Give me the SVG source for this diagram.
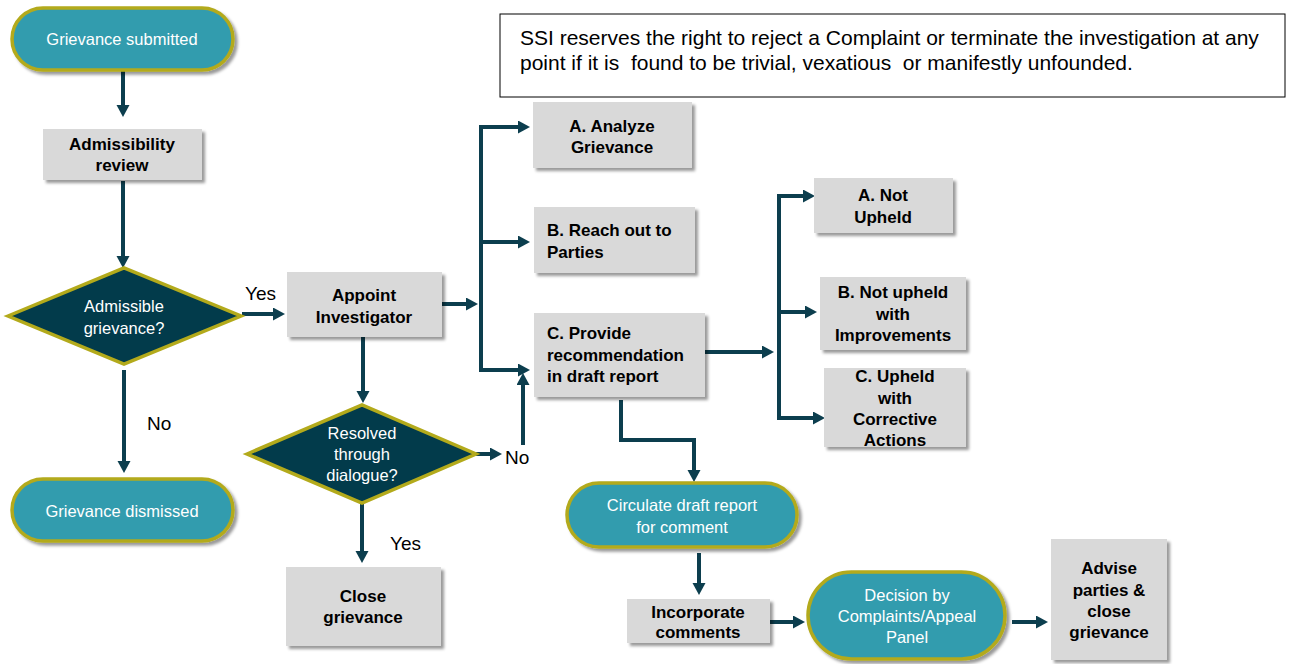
<svg xmlns="http://www.w3.org/2000/svg" width="1293" height="664" viewBox="0 0 1293 664">
<style>
.box{fill:#d9d9d9;filter:url(#sh)}
.pill{fill:#339cae;stroke:#b3aa1b;stroke-width:3.5;filter:url(#sh)}
.dia{fill:#023b4b;stroke:#b3aa1b;stroke-width:3.5}
.bt{font-family:"Liberation Sans",Arial,sans-serif;font-weight:bold;font-size:17px;fill:#000;text-anchor:middle}
.bl{text-anchor:start}
.wt{font-family:"Liberation Sans",Arial,sans-serif;font-size:16.5px;fill:#fff;text-anchor:middle}
.lb{font-family:"Liberation Sans",Arial,sans-serif;font-size:19px;fill:#000}
.note{font-family:"Liberation Sans",Arial,sans-serif;font-size:21px;fill:#000;white-space:pre}
.c{fill:none;stroke:#0c3e4e;stroke-width:4;marker-end:url(#ah)}
.cn{fill:none;stroke:#0c3e4e;stroke-width:4}
</style>
<defs>
<filter id="sh" x="-10%" y="-10%" width="130%" height="130%">
<feDropShadow dx="3" dy="3" stdDeviation="1.6" flood-color="#000" flood-opacity="0.4"/>
</filter>
<marker id="ah" markerUnits="userSpaceOnUse" markerWidth="14" markerHeight="14" refX="8" refY="6.5" orient="auto">
<path d="M0,0 L12,6.5 L0,13 z" fill="#0c3e4e"/>
</marker>
</defs>

<g id="connectors">
<path class="c" d="M123,71 V113"/>
<path class="c" d="M123,181 V264"/>
<path class="c" d="M242,314 H281"/>
<path class="c" d="M124,370 V469"/>
<path class="c" d="M442,304 H474"/>
<path class="cn" d="M481,127 V371"/>
<path class="c" d="M479,127 H526"/>
<path class="c" d="M481,242 H526"/>
<path class="c" d="M479,370 H526"/>
<path class="c" d="M363,337 V399"/>
<path class="c" d="M476,454 H498"/>
<path class="c" d="M523,445 V377"/>
<path class="c" d="M362,503 V559"/>
<path class="c" d="M621,400 V440 H694 V478"/>
<path class="c" d="M699,553 V591"/>
<path class="c" d="M770,622 H801"/>
<path class="c" d="M1012,622 H1044"/>
<path class="c" d="M705,352 H770"/>
<path class="cn" d="M779,196 V418"/>
<path class="c" d="M777,196 H811"/>
<path class="c" d="M779,312 H813"/>
<path class="c" d="M777,418 H821"/>
</g>

<g id="labels">
<text class="lb" x="245" y="300">Yes</text>
<text class="lb" x="147" y="430">No</text>
<text class="lb" x="505" y="464">No</text>
<text class="lb" x="390" y="550">Yes</text>
</g>

<g id="note">
<rect x="500" y="14" width="785" height="83" fill="#fff" stroke="#000" stroke-width="1"/>
<text class="note" x="520" y="45">SSI reserves the right to reject a Complaint or terminate the investigation at any</text>
<text class="note" x="520" y="70">point if it is  found to be trivial, vexatious  or manifestly unfounded.</text>
</g>

<g id="grievance-submitted">
<rect class="pill" x="12" y="8" width="221" height="62" rx="31"/>
<text class="wt" x="122" y="45">Grievance submitted</text>
</g>

<g id="admissibility-review">
<rect class="box" x="43" y="129" width="159" height="51"/>
<text class="bt" x="122" y="150">Admissibility</text>
<text class="bt" x="122" y="171">review</text>
</g>

<g id="admissible-grievance">
<polygon class="dia" points="8,316 124,268 241,316 124,364"/>
<text class="wt" x="124" y="312">Admissible</text>
<text class="wt" x="124" y="334">grievance?</text>
</g>

<g id="grievance-dismissed">
<rect class="pill" x="12" y="479" width="221" height="62" rx="31"/>
<text class="wt" x="122" y="517">Grievance dismissed</text>
</g>

<g id="appoint-investigator">
<rect class="box" x="287" y="272" width="155" height="65"/>
<text class="bt" x="364" y="301">Appoint</text>
<text class="bt" x="364" y="323">Investigator</text>
</g>

<g id="resolved-through-dialogue">
<polygon class="dia" points="247,454 362,405 476,454 362,503"/>
<text class="wt" x="362" y="439">Resolved</text>
<text class="wt" x="362" y="460">through</text>
<text class="wt" x="362" y="481">dialogue?</text>
</g>

<g id="close-grievance">
<rect class="box" x="286" y="567" width="155" height="79"/>
<text class="bt" x="363" y="602">Close</text>
<text class="bt" x="363" y="623">grievance</text>
</g>

<g id="analyze-grievance">
<rect class="box" x="533" y="102" width="159" height="66"/>
<text class="bt" x="612" y="132">A. Analyze</text>
<text class="bt" x="612" y="153">Grievance</text>
</g>

<g id="reach-out">
<rect class="box" x="534" y="207" width="161" height="66"/>
<text class="bt bl" x="547" y="236">B. Reach out to</text>
<text class="bt bl" x="547" y="258">Parties</text>
</g>

<g id="provide-recommendation">
<rect class="box" x="534" y="313" width="171" height="84"/>
<text class="bt bl" x="547" y="339">C. Provide</text>
<text class="bt bl" x="547" y="361">recommendation</text>
<text class="bt bl" x="547" y="382">in draft report</text>
</g>

<g id="not-upheld">
<rect class="box" x="814" y="178" width="139" height="55"/>
<text class="bt" x="883" y="201">A. Not</text>
<text class="bt" x="883" y="223">Upheld</text>
</g>

<g id="not-upheld-improvements">
<rect class="box" x="820" y="277" width="146" height="73"/>
<text class="bt" x="893" y="298">B. Not upheld</text>
<text class="bt" x="893" y="320">with</text>
<text class="bt" x="893" y="341">Improvements</text>
</g>

<g id="upheld-corrective">
<rect class="box" x="824" y="368" width="142" height="79"/>
<text class="bt" x="895" y="382">C. Upheld</text>
<text class="bt" x="895" y="404">with</text>
<text class="bt" x="895" y="425">Corrective</text>
<text class="bt" x="895" y="446">Actions</text>
</g>

<g id="circulate-draft">
<rect class="pill" x="567" y="483" width="230" height="64" rx="32"/>
<text class="wt" x="682" y="511">Circulate draft report</text>
<text class="wt" x="682" y="533">for comment</text>
</g>

<g id="incorporate-comments">
<rect class="box" x="627" y="599" width="143" height="44"/>
<text class="bt" x="698" y="618">Incorporate</text>
<text class="bt" x="698" y="638">comments</text>
</g>

<g id="decision-panel">
<rect class="pill" x="808" y="572" width="197" height="87" rx="43.5"/>
<text class="wt" x="907" y="601">Decision by</text>
<text class="wt" x="907" y="622">Complaints/Appeal</text>
<text class="wt" x="907" y="643">Panel</text>
</g>

<g id="advise-parties">
<rect class="box" x="1051" y="539" width="116" height="121"/>
<text class="bt" x="1109" y="574">Advise</text>
<text class="bt" x="1109" y="596">parties &amp;</text>
<text class="bt" x="1109" y="617">close</text>
<text class="bt" x="1109" y="638">grievance</text>
</g>
</svg>
